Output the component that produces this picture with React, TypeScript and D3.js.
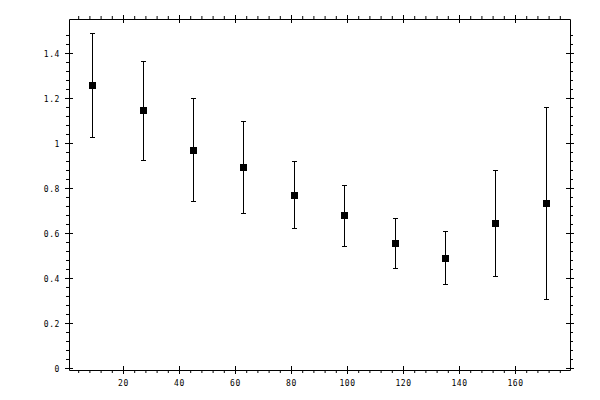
import React, { useRef, useEffect } from 'react';
import * as d3 from 'd3';

// bin centres and measured values with their error-bar limits
const BIN_CENTERS = [9, 27, 45, 63, 81, 99, 117, 135, 153, 171];
const VALUES = [1.258, 1.147, 0.969, 0.893, 0.769, 0.680, 0.556, 0.489, 0.644, 0.733];
const UPPER = [1.487, 1.363, 1.198, 1.098, 0.918, 0.812, 0.667, 0.609, 0.880, 1.160];
const LOWER = [1.027, 0.924, 0.742, 0.689, 0.622, 0.542, 0.444, 0.373, 0.409, 0.307];

const X_TICKS = [20, 40, 60, 80, 100, 120, 140, 160];
const Y_TICKS = [0, 0.2, 0.4, 0.6, 0.8, 1, 1.2, 1.4];
const X_DOMAIN = [0.714, 179.64];
const Y_DOMAIN = [-0.0089, 1.5511];

const WIDTH = 600;
const HEIGHT = 400;
const FONT = '"DejaVu Sans Mono", monospace';

const App: React.FC = () => {
    const svgRef = useRef<SVGSVGElement>(null);

    useEffect(() => {
        if (!svgRef.current) return;
        const svg = d3.select(svgRef.current);
        svg.selectAll("*").remove();

        const left = 69, right = 570, top = 19, bottom = 370;

        const xScale = d3.scaleLinear().domain(X_DOMAIN).range([left, right]);
        const yScale = d3.scaleLinear().domain(Y_DOMAIN).range([bottom, top]);

        const xMinor = d3.range(4, 180, 4).filter(v => v % 20 !== 0);
        const yMinor = d3.range(0, 38)
            .map(i => +(i * 0.04).toFixed(2))
            .filter(v => Math.abs(v * 5 - Math.round(v * 5)) > 1e-6);

        const styleAxis = (g: any, keepDomain: boolean) => {
            g.attr("font-family", FONT).attr("font-size", 8);
            if (!keepDomain) g.select(".domain").remove();
            g.selectAll("line").attr("stroke", "#000");
            g.selectAll("path").attr("stroke", "#000");
            g.selectAll("text").attr("fill", "#000").attr("letter-spacing", 0.6);
        };

        // bottom
        svg.append("g").attr("transform", `translate(0,${bottom})`)
            .call(d3.axisBottom(xScale).tickValues(X_TICKS).tickSize(4).tickSizeOuter(0).tickPadding(6).tickFormat(d3.format("d")))
            .call((g: any) => styleAxis(g, true));
        svg.append("g").attr("transform", `translate(0,${bottom})`)
            .call(d3.axisBottom(xScale).tickValues(X_TICKS).tickSize(-4).tickSizeOuter(0).tickFormat(() => ""))
            .call((g: any) => styleAxis(g, false));
        svg.append("g").attr("transform", `translate(0,${bottom})`)
            .call(d3.axisBottom(xScale).tickValues(xMinor).tickSize(3).tickSizeOuter(0).tickFormat(() => ""))
            .call((g: any) => styleAxis(g, false));

        // top
        svg.append("g").attr("transform", `translate(0,${top})`)
            .call(d3.axisTop(xScale).tickValues(X_TICKS).tickSize(4).tickSizeOuter(0).tickFormat(() => ""))
            .call((g: any) => styleAxis(g, true));
        svg.append("g").attr("transform", `translate(0,${top})`)
            .call(d3.axisTop(xScale).tickValues(X_TICKS).tickSize(-4).tickSizeOuter(0).tickFormat(() => ""))
            .call((g: any) => styleAxis(g, false));
        svg.append("g").attr("transform", `translate(0,${top})`)
            .call(d3.axisTop(xScale).tickValues(xMinor).tickSize(3).tickSizeOuter(0).tickFormat(() => ""))
            .call((g: any) => styleAxis(g, false));

        // left
        svg.append("g").attr("transform", `translate(${left},0)`)
            .call(d3.axisLeft(yScale).tickValues(Y_TICKS).tickSize(4).tickSizeOuter(0).tickPadding(5).tickFormat(d => `${+d}`))
            .call((g: any) => {
                styleAxis(g, true);
                g.selectAll("text").attr("dy", "0.45em");
            });
        svg.append("g").attr("transform", `translate(${left},0)`)
            .call(d3.axisLeft(yScale).tickValues(Y_TICKS).tickSize(-4).tickSizeOuter(0).tickFormat(() => ""))
            .call((g: any) => styleAxis(g, false));
        svg.append("g").attr("transform", `translate(${left},0)`)
            .call(d3.axisLeft(yScale).tickValues(yMinor).tickSize(3).tickSizeOuter(0).tickFormat(() => ""))
            .call((g: any) => styleAxis(g, false));

        // right
        svg.append("g").attr("transform", `translate(${right},0)`)
            .call(d3.axisRight(yScale).tickValues(Y_TICKS).tickSize(4).tickSizeOuter(0).tickFormat(() => ""))
            .call((g: any) => styleAxis(g, true));
        svg.append("g").attr("transform", `translate(${right},0)`)
            .call(d3.axisRight(yScale).tickValues(Y_TICKS).tickSize(-4).tickSizeOuter(0).tickFormat(() => ""))
            .call((g: any) => styleAxis(g, false));
        svg.append("g").attr("transform", `translate(${right},0)`)
            .call(d3.axisRight(yScale).tickValues(yMinor).tickSize(3).tickSizeOuter(0).tickFormat(() => ""))
            .call((g: any) => styleAxis(g, false));

        const points = BIN_CENTERS.map((x, i) => ({ x, y: VALUES[i], hi: UPPER[i], lo: LOWER[i] }));
        const px = (v: number) => Math.round(xScale(v)) + 0.5;
        const py = (v: number) => Math.round(yScale(v)) + 0.5;

        const bars = svg.append("g").attr("stroke", "#000").attr("stroke-width", 1);

        bars.selectAll("line.bar")
            .data(points)
            .join("line")
            .attr("class", "bar")
            .attr("x1", d => px(d.x)).attr("x2", d => px(d.x))
            .attr("y1", d => py(d.hi)).attr("y2", d => py(d.lo));

        bars.selectAll("line.cap-hi")
            .data(points)
            .join("line")
            .attr("class", "cap-hi")
            .attr("x1", d => px(d.x) - 2.5).attr("x2", d => px(d.x) + 2.5)
            .attr("y1", d => py(d.hi)).attr("y2", d => py(d.hi));

        bars.selectAll("line.cap-lo")
            .data(points)
            .join("line")
            .attr("class", "cap-lo")
            .attr("x1", d => px(d.x) - 2.5).attr("x2", d => px(d.x) + 2.5)
            .attr("y1", d => py(d.lo)).attr("y2", d => py(d.lo));

        svg.append("g").selectAll("rect")
            .data(points)
            .join("rect")
            .attr("x", d => px(d.x) - 3.5)
            .attr("y", d => py(d.y) - 3.5)
            .attr("width", 7)
            .attr("height", 7)
            .attr("fill", "#000");
    }, []);

    return (
        <svg
            ref={svgRef}
            width={WIDTH}
            height={HEIGHT}
            style={{ position: 'absolute', left: 0, top: 0, background: '#fff', display: 'block' }}
        />
    );
};

export default App;
